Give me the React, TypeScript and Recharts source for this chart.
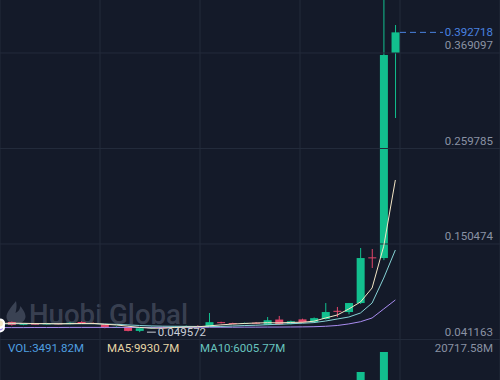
import React from 'react';
import { ComposedChart, Bar, Line, XAxis, YAxis, CartesianGrid, ReferenceLine, Cell } from 'recharts';

// ---- data ----
const idx = [0,1,2,3,4,5,6,7,8,9,10,11,12,13,14,15,16,17,18,19,20,21,22,23,24,25,26,27,28,29,30,31,32,33,34];
const opens = [0.0595,0.0612,0.0580,0.0592,0.0585,0.0596,0.0588,0.0612,0.0601,0.0585,0.0548,0.0556,0.0510,0.0540,0.0552,0.0545,0.0558,0.0566,0.0565,0.0610,0.0600,0.0592,0.0604,0.0580,0.0640,0.0590,0.0642,0.0612,0.0646,0.0740,0.0726,0.0829,0.1352,0.1344,0.3691];
const highs = [0.0625,0.0618,0.0598,0.0600,0.0602,0.0600,0.0610,0.0620,0.0606,0.0590,0.0562,0.0560,0.0548,0.0560,0.0558,0.0565,0.0572,0.0575,0.0715,0.0615,0.0604,0.0606,0.0612,0.0669,0.0681,0.0628,0.0650,0.0664,0.0829,0.0784,0.0830,0.1459,0.1447,0.4700,0.4011];
const lows = [0.0588,0.0570,0.0575,0.0580,0.0582,0.0584,0.0585,0.0598,0.0588,0.0540,0.0544,0.0505,0.049572,0.0535,0.0540,0.0542,0.0552,0.0558,0.0562,0.0596,0.0588,0.0588,0.0590,0.0576,0.0580,0.0585,0.0602,0.0606,0.0640,0.0669,0.0700,0.0818,0.1230,0.1320,0.2947];
const closes = [0.0612,0.0578,0.0592,0.0585,0.0596,0.0588,0.0603,0.0601,0.0592,0.0548,0.0556,0.0510,0.0540,0.0552,0.0545,0.0558,0.0566,0.0562,0.0610,0.0600,0.0592,0.0601,0.0596,0.0632,0.0586,0.0620,0.0610,0.0656,0.0726,0.0736,0.0829,0.1344,0.1341,0.3668,0.392718];
const volumes = [1800,2100,1500,1700,1400,1600,1900,2200,1500,2600,1700,3100,2800,1900,1600,1500,1700,1400,4200,2000,1600,1500,1700,3300,2900,1800,1900,2100,2300,2305,6058,12085,7300,20717.58,3491.82];
const ma5 = [0.0596,0.0598,0.0597,0.0594,0.0593,0.0591,0.0593,0.0595,0.0596,0.0586,0.0578,0.0564,0.0550,0.0541,0.0541,0.0549,0.0554,0.0557,0.0568,0.0579,0.0588,0.0595,0.0600,0.0604,0.0602,0.0607,0.0609,0.0621,0.0658,0.0692,0.0761,0.0841,0.1001,0.1480,0.2237];
const ma10 = [0.0590,0.0592,0.0592,0.0592,0.0592,0.0592,0.0592,0.0592,0.0592,0.0589,0.0585,0.0579,0.0572,0.0567,0.0564,0.0563,0.0562,0.0561,0.0560,0.0561,0.0566,0.0571,0.0575,0.0581,0.0586,0.0592,0.0598,0.0605,0.0623,0.0646,0.0669,0.0715,0.0829,0.1115,0.1436];
const ma30 = [0.0548,0.0548,0.0548,0.0549,0.0549,0.0549,0.0550,0.0550,0.0550,0.0550,0.0550,0.0550,0.0550,0.0550,0.0551,0.0551,0.0551,0.0551,0.0552,0.0552,0.0552,0.0553,0.0553,0.0554,0.0554,0.0555,0.0556,0.0558,0.0563,0.0572,0.0590,0.0615,0.0658,0.0761,0.0864];

const priceTicks = [0.041163, 0.150474, 0.259785, 0.369097];
const lastPrice = 0.392718;
const minPrice = 0.049572;
const volText = 'VOL:3491.82M';
const volMa5Text = 'MA5:9930.7M';
const volMa10Text = 'MA10:6005.77M';
const volMaxText = '20717.58M';
const watermark = 'Huobi Global';

// ---- styles ----
const W = 500;
const H = 380;
const BG = '#141a29';
const GRID = '#232b3b';
const GREEN = '#12bf8e';
const RED = '#e3466a';
const C_MA5 = '#f3e6c6';
const C_MA10 = '#86d3d6';
const C_MA30 = '#a98cf0';
const FONT = 'Roboto, "DejaVu Sans", sans-serif';

const data = idx.map((i) => ({
  i,
  open: opens[i],
  high: highs[i],
  low: lows[i],
  close: closes[i],
  vol: volumes[i],
  ma5: ma5[i],
  ma10: ma10[i],
  ma30: ma30[i],
}));

const Candle = (props: any) => {
  const { x, y, width, height, payload } = props;
  if (!payload || x == null || y == null) return null;
  const { open, close, high, low } = payload;
  const color = close >= open ? GREEN : RED;
  const top = Math.min(y, y + height);
  const h = Math.abs(height);
  const ratio = high - low > 0 ? h / (high - low) : 0;
  const yOf = (v: number) => top + (high - v) * ratio;
  const bTop = yOf(Math.max(open, close));
  const bBot = yOf(Math.min(open, close));
  const cx = x + width / 2;
  return (
    <g>
      <line x1={cx} x2={cx} y1={top} y2={top + h} stroke={color} strokeWidth={1} />
      <rect x={x} y={bTop} width={width} height={Math.max(1, bBot - bTop)} fill={color} />
    </g>
  );
};

const makeTickLabel = (v: number) => (props: any) => {
  const vb = props.viewBox || {};
  return (
    <text x={493} y={vb.y - 3.5} textAnchor="end" fill="#8a92a4" fontSize={11.5} fontFamily={FONT}>
      {v.toFixed(6)}
    </text>
  );
};

const LastLabel = (props: any) => {
  const vb = props.viewBox || {};
  return (
    <text x={493} y={vb.y + 4} textAnchor="end" fill="#4a82e0" fontSize={11.5} fontFamily={FONT}>
      {lastPrice.toFixed(6)}
    </text>
  );
};

const MinLabel = (props: any) => {
  const vb = props.viewBox || {};
  return (
    <text x={vb.x + vb.width + 2} y={vb.y + 4} textAnchor="start" fill="#c9cdd6" fontSize={11.5} fontFamily={FONT}>
      {minPrice.toFixed(6)}
    </text>
  );
};

export default function App() {
  return (
    <div style={{ position: 'absolute', left: 0, top: 0, width: W, height: H, background: BG, overflow: 'hidden' }}>
      <svg width={W} height={H} style={{ position: 'absolute', left: 0, top: 0 }}>
        <path
          d="M16,301 C10,308.5 6.5,312.5 6.5,317 C6.5,321 10.5,324 16,324 C21.5,324 25.5,320.5 25.5,316.5 C25.5,312.5 22.5,309.5 20.5,306 C20,309.5 18.5,311.5 15.5,313 C16.5,309 17,305 16,301 Z"
          fill="rgba(150,160,182,0.30)"
        />
        <text x={29} y={324} fontSize={28} fontWeight={500} fontFamily={FONT} fill="rgba(150,160,182,0.30)" textLength={159} lengthAdjust="spacingAndGlyphs">
          {watermark}
        </text>
      </svg>
      <div style={{ position: 'absolute', left: 0, top: 0 }}>
        <ComposedChart width={W} height={H} data={data} margin={{ top: 0, right: 0, bottom: 0, left: 0 }}>
          <XAxis xAxisId="c" dataKey="i" type="number" domain={[0, 43]} ticks={[8.6, 17.2, 25.8, 34.4]} allowDataOverflow hide />
          <XAxis xAxisId="v" dataKey="i" type="number" domain={[0, 43]} allowDataOverflow hide />
          <YAxis yAxisId="p" type="number" domain={[-0.005195, 0.429762]} allowDataOverflow ticks={priceTicks} hide />
          <YAxis yAxisId="v" type="number" domain={[8632, 172646]} allowDataOverflow hide />
          <CartesianGrid xAxisId="c" yAxisId="p" stroke={GRID} strokeWidth={1} horizontal={false} />
          {priceTicks.map((t) => (
            <ReferenceLine key={t} xAxisId="c" yAxisId="p" y={t} stroke={GRID} strokeWidth={1} label={makeTickLabel(t)} />
          ))}
          <Bar
            xAxisId="v"
            yAxisId="v"
            dataKey={(d: any) => [0, d.vol]}
            barSize={8}
            isAnimationActive={false}
          >
            {data.map((d) => (
              <Cell key={d.i} fill={d.close >= d.open ? GREEN : RED} />
            ))}
          </Bar>
          <Bar
            xAxisId="c"
            yAxisId="p"
            dataKey={(d: any) => [d.low, d.high]}
            barSize={8}
            shape={Candle}
            isAnimationActive={false}
          />
          <Line xAxisId="c" yAxisId="p" dataKey="ma30" stroke={C_MA30} strokeWidth={1} dot={false} isAnimationActive={false} />
          <Line xAxisId="c" yAxisId="p" dataKey="ma10" stroke={C_MA10} strokeWidth={1} dot={false} isAnimationActive={false} />
          <Line xAxisId="c" yAxisId="p" dataKey="ma5" stroke={C_MA5} strokeWidth={1} dot={false} isAnimationActive={false} />
          <ReferenceLine
            xAxisId="c"
            yAxisId="p"
            segment={[{ x: 34.4, y: lastPrice }, { x: 38.1, y: lastPrice }]}
            stroke="#4a82e0"
            strokeDasharray="6 4"
            label={LastLabel}
          />
          <ReferenceLine
            xAxisId="c"
            yAxisId="p"
            segment={[{ x: 12.64, y: minPrice }, { x: 13.4, y: minPrice }]}
            stroke="#c9cdd6"
            label={MinLabel}
          />
        </ComposedChart>
      </div>
      <svg width={W} height={H} style={{ position: 'absolute', left: 0, top: 0, pointerEvents: 'none' }}>
        <text x={8} y={351.5} fontSize={11.5} fontFamily={FONT} fill="#4f9fe0">{volText}</text>
        <text x={107} y={351.5} fontSize={11.5} fontFamily={FONT} fill="#e6d6a6">{volMa5Text}</text>
        <text x={200} y={351.5} fontSize={11.5} fontFamily={FONT} fill="#68c4bf">{volMa10Text}</text>
        <text x={493} y={351.5} fontSize={11.5} fontFamily={FONT} fill="#8a92a4" textAnchor="end">{volMaxText}</text>
      </svg>
    </div>
  );
}
